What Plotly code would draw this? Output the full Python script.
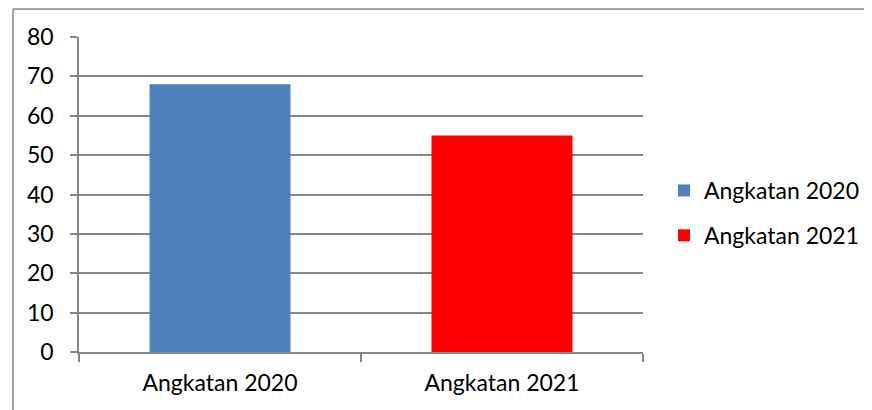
import plotly.graph_objects as go

categories = ["Angkatan 2020", "Angkatan 2021"]
series_names = ["Angkatan 2020", "Angkatan 2021"]
values = [68, 55]
colors = ["#4F81BD", "#FF0000"]
y_ticks = [0, 10, 20, 30, 40, 50, 60, 70, 80]

W, H = 872, 410
OFF = 8  # page body margin
L, T = 79 - OFF, 37 - OFF
pw, ph = 564, 315
R, B = W - L - pw, H - T - ph

fig = go.Figure()
for i, (name, v) in enumerate(zip(series_names, values)):
    fig.add_trace(go.Bar(
        x=[categories[i]], y=[v], name=name, legendgroup=name,
        marker=dict(color=colors[i], line=dict(width=0)),
        width=0.5,
    ))

font = dict(family="Lato, Calibri, sans-serif", size=23, color="#000000")
axis_col = "#868686"

fig.update_layout(
    width=W, height=H,
    margin=dict(l=L, r=R, t=T, b=B),
    paper_bgcolor="white", plot_bgcolor="white",
    font=font,
    barmode="overlay",
    showlegend=True,
    legend=dict(
        x=(664 - 79) / pw, y=(352 - 213) / ph, xanchor="left", yanchor="middle",
        font=font, traceorder="grouped", tracegroupgap=12,
        bgcolor="rgba(0,0,0,0)",
    ),
    xaxis=dict(
        categoryorder="array", categoryarray=categories,
        showline=True, linecolor=axis_col, linewidth=1.5,
        ticks="outside", tickson="boundaries", ticklen=8,
        tickcolor=axis_col, tickwidth=1.5,
        showgrid=False, ticklabelstandoff=10,
    ),
    yaxis=dict(
        range=[0, 80], tickvals=y_ticks,
        showline=True, linecolor=axis_col, linewidth=1.5,
        ticks="outside", ticklen=7, tickcolor=axis_col, tickwidth=1.5,
        showgrid=True, gridcolor=axis_col, gridwidth=1.5,
        zeroline=False, ticklabelstandoff=12,
    ),
    shapes=[
        dict(type="line", xref="paper", yref="paper",
             x0=(13 - 79) / pw, x1=1.8, y0=(352 - 9) / ph, y1=(352 - 9) / ph,
             line=dict(color=axis_col, width=1.5)),
        dict(type="line", xref="paper", yref="paper",
             x0=(13 - 79) / pw, x1=(13 - 79) / pw, y0=(352 - 9) / ph, y1=-0.6,
             line=dict(color=axis_col, width=1.5)),
    ],
)

fig.write_html("out.html")
